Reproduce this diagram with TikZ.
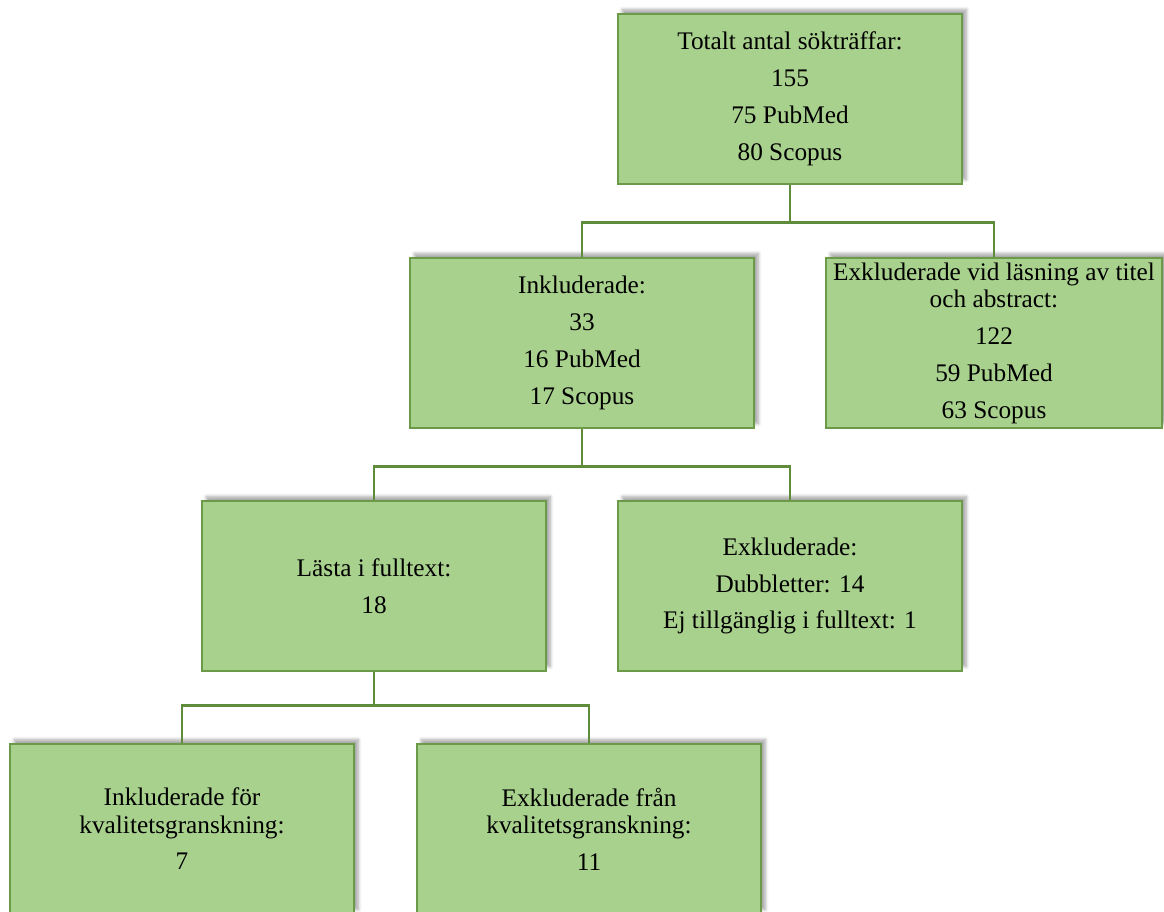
\documentclass[tikz,border=0pt]{standalone}
\usepackage{fontspec}
\setmainfont{Liberation Serif}
\usetikzlibrary{shadows.blur}

\definecolor{boxfill}{HTML}{A9D18E}
\definecolor{boxline}{HTML}{6B9A48}
\definecolor{linkline}{HTML}{5E8C3A}

\tikzset{
    flowbox/.style={draw=boxline, fill=boxfill, line width=1pt, inner sep=0pt,
        minimum width=6.88cm, minimum height=3.4cm, align=center,
        font=\fontsize{14.4}{15.5}\selectfont,
        blur shadow={shadow xshift=2.5pt, shadow yshift=2.5pt, shadow blur steps=6, shadow opacity=35}},
    link/.style={draw=linkline, line width=1.6pt}
}
\newcommand{\gap}{\\[5.5pt]}

\begin{document}
\begin{tikzpicture}[x=0.02cm, y=-0.02cm]
    \useasboundingbox (0,0) rectangle (1164,912);
    \clip (0,0) rectangle (1164,912);

%  \draw[step=50, gray!30, ultra thin] (0,0) grid (1164,912);

    % Draw the boxes, row by row
    \node[flowbox] (total) at (790,99) {Totalt antal sökträffar:\gap 155\gap 75 PubMed\gap 80 Scopus};

    \node[flowbox] (incl) at (582,343) {Inkluderade:\gap 33\gap 16 PubMed\gap 17 Scopus};
    \node[flowbox, minimum width=6.72cm] (excl) at (994,343) {Exkluderade vid läsning av titel\\och abstract:\gap 122\gap 59 PubMed\gap 63 Scopus};

    \node[flowbox] (full) at (374,586) {Lästa i fulltext:\gap 18};
    \node[flowbox] (dupl) at (790,586) {Exkluderade:\gap Dubbletter: 14\gap Ej tillgänglig i fulltext: 1};

    \node[flowbox] (qincl) at (182,829) {Inkluderade för\\kvalitetsgranskning:\gap 7};
    \node[flowbox] (qexcl) at (589,829) {Exkluderade från\\kvalitetsgranskning:\gap 11};

    % Draw the connectors
    \draw[link] (total.south) -- ++(0,38) -| (incl.north);
    \draw[link] (total.south) -- ++(0,38) -| (excl.north);

    \draw[link] (incl.south) -- ++(0,38) -| (full.north);
    \draw[link] (incl.south) -- ++(0,38) -| (dupl.north);

    \draw[link] (full.south) -- ++(0,34) -| (qincl.north);
    \draw[link] (full.south) -- ++(0,34) -| (qexcl.north);
\end{tikzpicture}
\end{document}
